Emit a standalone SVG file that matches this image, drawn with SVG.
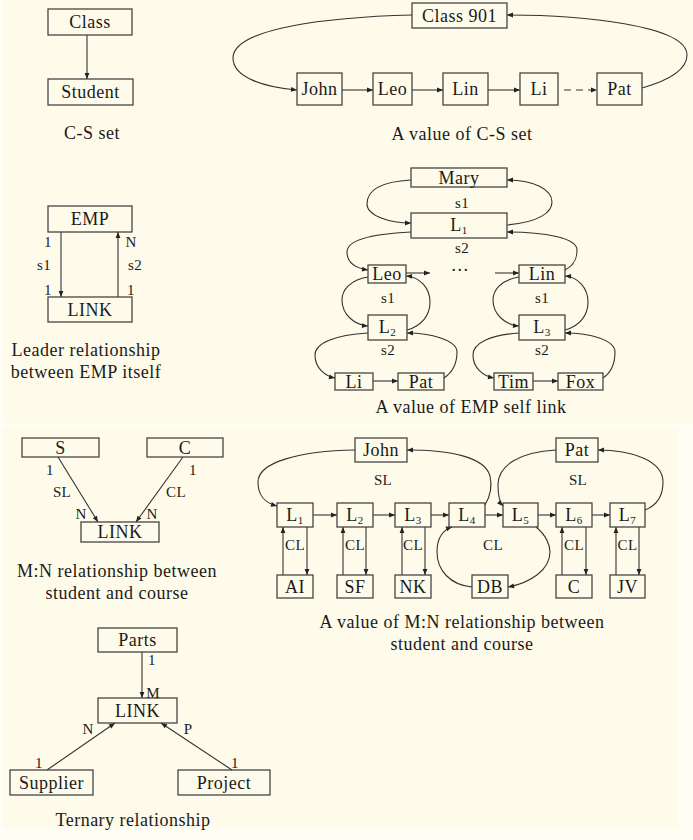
<svg xmlns="http://www.w3.org/2000/svg" width="693" height="840" viewBox="0 0 693 840">
<defs>
<style>
.box{fill:none;stroke:#444;stroke-width:1.3}
.t{font-family:"Liberation Serif","DejaVu Serif",serif;font-size:18px;letter-spacing:0.5px;fill:#1a1a1a;text-anchor:middle}
.s{font-size:15px;letter-spacing:0.3px}
.sb{font-size:11px}
.c{fill:none;stroke:#333;stroke-width:1.1;marker-end:url(#ah)}
</style>
<marker id="ah" viewBox="0 0 10 10" refX="10" refY="5" markerWidth="7" markerHeight="6" markerUnits="userSpaceOnUse" orient="auto"><path d="M0,1 L10,5 L0,9 z" fill="#222"/></marker>
</defs>
<rect x="0" y="0" width="693" height="840" fill="#fffef5"/>
<rect x="3" y="0" width="690" height="423" fill="#fffbea"/>
<rect x="3" y="428" width="675" height="400" fill="#fffbea"/>

<g id="connectors">
<path class="c" d="M87,35 L87,79"/>
<path class="c" d="M342,90 L373,90"/>
<path class="c" d="M412,90 L443,90"/>
<path class="c" d="M488,90 L520,90"/>
<path class="c" d="M564,90 L597,90" stroke-dasharray="7,5" stroke="#222"/>
<path class="c" d="M412,15 C330,17 233,28 233,58 C233,78 265,87 297,90"/>
<path class="c" d="M642,88 C670,80 687,70 687,55 C687,25 580,15 507,15"/>
<path class="c" d="M61,232 L61,297"/>
<path class="c" d="M118,297 L118,232"/>
<path class="c" d="M411,180 C375,182 367,194 367,204 C367,216 390,223 411,223"/>
<path class="c" d="M507,225 C540,222 552,212 552,202 C552,190 535,180 507,180"/>
<path class="c" d="M411,232 C370,234 347,240 347,252 C347,262 355,268 368,270"/>
<path class="c" d="M565,270 C575,265 577,258 577,250 C577,238 545,232 507,232"/>
<path class="c" d="M368,277 C350,280 342,290 342,300 C342,315 355,325 368,326"/>
<path class="c" d="M407,330 C422,326 430,315 430,302 C430,288 420,277 406,276"/>
<path class="c" d="M519,277 C501,280 493,290 493,300 C493,315 506,325 519,326"/>
<path class="c" d="M565,330 C580,326 588,315 588,302 C588,288 578,277 565,276"/>
<path class="c" d="M368,333 C335,335 315,343 315,355 C315,368 325,376 335,378"/>
<path class="c" d="M444,378 C453,372 457,362 457,352 C457,340 430,333 407,333"/>
<path class="c" d="M519,333 C490,335 473,343 473,355 C473,368 483,376 494,378"/>
<path class="c" d="M603,378 C612,372 615,362 615,352 C615,340 590,333 565,333"/>
<path class="c" d="M406,273 L430,273"/>
<path class="c" d="M495,273 L519,273"/>
<path class="c" d="M373,381 L398,381"/>
<path class="c" d="M533,381 L558,381"/>
<path class="c" d="M58,457 L98,522"/>
<path class="c" d="M183,457 L136,522"/>
<path class="c" d="M313,515 L337,515"/>
<path class="c" d="M373,515 L395,515"/>
<path class="c" d="M431,515 L449,515"/>
<path class="c" d="M485,515 L503,515"/>
<path class="c" d="M538,515 L556,515"/>
<path class="c" d="M592,515 L610,515"/>
<path class="c" d="M283,575 L283,527"/>
<path class="c" d="M307,527 L307,575"/>
<path class="c" d="M343,575 L343,527"/>
<path class="c" d="M366,527 L366,575"/>
<path class="c" d="M402,575 L402,527"/>
<path class="c" d="M425,527 L425,575"/>
<path class="c" d="M562,575 L562,527"/>
<path class="c" d="M586,527 L586,575"/>
<path class="c" d="M616,575 L616,527"/>
<path class="c" d="M639,527 L639,575"/>
<path class="c" d="M472,587 C450,585 437,570 437,552 C437,538 443,530 452,527"/>
<path class="c" d="M536,527 C546,535 550,545 550,552 C550,570 530,583 508,587"/>
<path class="c" d="M355,450 C300,451 258,462 258,482 C258,497 266,503 277,506"/>
<path class="c" d="M485,505 C491,495 492,485 490,476 C485,457 450,450 407,450"/>
<path class="c" d="M556,450 C520,452 498,465 498,485 C498,497 500,503 503,506"/>
<path class="c" d="M645,510 C658,505 663,495 663,482 C663,460 630,450 598,450"/>
<path class="c" d="M142,652 L142,698"/>
<path class="c" d="M47,770 L115,723"/>
<path class="c" d="M232,770 L161,723"/>
</g>

<g id="n-class"><rect class="box" x="48" y="9" width="84" height="26"/><text class="t" x="90" y="28">Class</text></g>
<g id="n-student"><rect class="box" x="48" y="79" width="85" height="26"/><text class="t" x="90.5" y="98">Student</text></g>
<text class="t" x="92" y="139">C-S set</text>

<g id="n-class901"><rect class="box" x="412" y="3" width="95" height="25"/><text class="t" x="459.5" y="21.5">Class 901</text></g>
<g id="n-john1"><rect class="box" x="297" y="73" width="45" height="32"/><text class="t" x="319.5" y="95">John</text></g>
<g id="n-leo1"><rect class="box" x="373" y="73" width="39" height="32"/><text class="t" x="392.5" y="95">Leo</text></g>
<g id="n-lin1"><rect class="box" x="443" y="73" width="45" height="32"/><text class="t" x="465.5" y="95">Lin</text></g>
<g id="n-li1"><rect class="box" x="520" y="73" width="38" height="32"/><text class="t" x="539" y="95">Li</text></g>
<g id="n-pat1"><rect class="box" x="597" y="73" width="45" height="32"/><text class="t" x="619.5" y="95">Pat</text></g>
<text class="t" x="462" y="140">A value of C-S set</text>

<g id="n-emp"><rect class="box" x="48" y="206" width="84" height="26"/><text class="t" x="90" y="225">EMP</text></g>
<g id="n-link1"><rect class="box" x="48" y="297" width="84" height="25"/><text class="t" x="90" y="315.5">LINK</text></g>
<text class="t s" x="48" y="247">1</text>
<text class="t s" x="44" y="270">s1</text>
<text class="t s" x="48" y="295">1</text>
<text class="t s" x="131" y="247">N</text>
<text class="t s" x="135" y="270">s2</text>
<text class="t s" x="131" y="295">1</text>
<text class="t" x="86" y="356">Leader relationship</text>
<text class="t" x="86" y="378">between EMP itself</text>

<g id="n-mary"><rect class="box" x="411" y="168" width="96" height="19"/><text class="t" x="459" y="183.5">Mary</text></g>
<g id="n-l1a"><rect class="box" x="411" y="213" width="96" height="25"/><text class="t" x="459" y="231">L<tspan class="sb" dy="3">1</tspan></text></g>
<g id="n-leo2"><rect class="box" x="368" y="265" width="38" height="18"/><text class="t" x="387" y="280">Leo</text></g>
<g id="n-lin2"><rect class="box" x="519" y="265" width="46" height="18"/><text class="t" x="542" y="280">Lin</text></g>
<g id="n-l2a"><rect class="box" x="368" y="315" width="39" height="25"/><text class="t" x="387.5" y="333">L<tspan class="sb" dy="3">2</tspan></text></g>
<g id="n-l3a"><rect class="box" x="519" y="315" width="46" height="25"/><text class="t" x="542" y="333">L<tspan class="sb" dy="3">3</tspan></text></g>
<g id="n-li2"><rect class="box" x="335" y="373" width="38" height="17"/><text class="t" x="354" y="387.5">Li</text></g>
<g id="n-pat2"><rect class="box" x="398" y="373" width="46" height="17"/><text class="t" x="421" y="387.5">Pat</text></g>
<g id="n-tim"><rect class="box" x="494" y="373" width="39" height="17"/><text class="t" x="513.5" y="387.5">Tim</text></g>
<g id="n-fox"><rect class="box" x="558" y="373" width="45" height="17"/><text class="t" x="580.5" y="387.5">Fox</text></g>
<text class="t s" x="462" y="208">s1</text>
<text class="t s" x="462" y="253">s2</text>
<text class="t s" x="388" y="303">s1</text>
<text class="t s" x="542" y="303">s1</text>
<text class="t s" x="388" y="355">s2</text>
<text class="t s" x="542" y="355">s2</text>
<text class="t" x="460" y="271">…</text>
<text class="t" x="471" y="413">A value of EMP self link</text>

<g id="n-s"><rect class="box" x="22" y="438" width="77" height="19"/><text class="t" x="60.5" y="453.5">S</text></g>
<g id="n-c"><rect class="box" x="147" y="438" width="76" height="19"/><text class="t" x="185" y="453.5">C</text></g>
<g id="n-link2"><rect class="box" x="81" y="522" width="78" height="20"/><text class="t" x="120" y="538">LINK</text></g>
<text class="t s" x="50" y="475">1</text>
<text class="t s" x="62" y="497">SL</text>
<text class="t s" x="81" y="519">N</text>
<text class="t s" x="193" y="475">1</text>
<text class="t s" x="176" y="497">CL</text>
<text class="t s" x="152" y="519">N</text>
<text class="t" x="117" y="577">M:N relationship between</text>
<text class="t" x="117" y="599">student and course</text>

<g id="n-john3"><rect class="box" x="355" y="438" width="52" height="24"/><text class="t" x="381" y="456">John</text></g>
<g id="n-pat3"><rect class="box" x="556" y="438" width="42" height="24"/><text class="t" x="577" y="456">Pat</text></g>
<g id="n-ml1"><rect class="box" x="277" y="503" width="36" height="24"/><text class="t" x="295" y="520.5">L<tspan class="sb" dy="3">1</tspan></text></g>
<g id="n-ml2"><rect class="box" x="337" y="503" width="36" height="24"/><text class="t" x="355" y="520.5">L<tspan class="sb" dy="3">2</tspan></text></g>
<g id="n-ml3"><rect class="box" x="395" y="503" width="36" height="24"/><text class="t" x="413" y="520.5">L<tspan class="sb" dy="3">3</tspan></text></g>
<g id="n-ml4"><rect class="box" x="449" y="503" width="36" height="24"/><text class="t" x="467" y="520.5">L<tspan class="sb" dy="3">4</tspan></text></g>
<g id="n-ml5"><rect class="box" x="503" y="503" width="35" height="24"/><text class="t" x="520.5" y="520.5">L<tspan class="sb" dy="3">5</tspan></text></g>
<g id="n-ml6"><rect class="box" x="556" y="503" width="36" height="24"/><text class="t" x="574" y="520.5">L<tspan class="sb" dy="3">6</tspan></text></g>
<g id="n-ml7"><rect class="box" x="610" y="503" width="35" height="24"/><text class="t" x="627.5" y="520.5">L<tspan class="sb" dy="3">7</tspan></text></g>
<g id="n-ai"><rect class="box" x="277" y="575" width="36" height="23"/><text class="t" x="295" y="592.5">AI</text></g>
<g id="n-sf"><rect class="box" x="337" y="575" width="36" height="23"/><text class="t" x="355" y="592.5">SF</text></g>
<g id="n-nk"><rect class="box" x="395" y="575" width="36" height="23"/><text class="t" x="413" y="592.5">NK</text></g>
<g id="n-db"><rect class="box" x="472" y="575" width="36" height="23"/><text class="t" x="490" y="592.5">DB</text></g>
<g id="n-c2"><rect class="box" x="556" y="575" width="36" height="23"/><text class="t" x="574" y="592.5">C</text></g>
<g id="n-jv"><rect class="box" x="610" y="575" width="35" height="23"/><text class="t" x="627.5" y="592.5">JV</text></g>
<text class="t s" x="295" y="550">CL</text>
<text class="t s" x="355" y="550">CL</text>
<text class="t s" x="413" y="550">CL</text>
<text class="t s" x="493" y="550">CL</text>
<text class="t s" x="574" y="550">CL</text>
<text class="t s" x="627.5" y="550">CL</text>
<text class="t s" x="383" y="485">SL</text>
<text class="t s" x="578" y="485">SL</text>
<text class="t" x="462" y="628">A value of M:N relationship between</text>
<text class="t" x="462" y="650">student and course</text>

<g id="n-parts"><rect class="box" x="98" y="628" width="79" height="24"/><text class="t" x="137.5" y="646">Parts</text></g>
<g id="n-link3"><rect class="box" x="98" y="698" width="79" height="25"/><text class="t" x="137.5" y="716.5">LINK</text></g>
<g id="n-supplier"><rect class="box" x="10" y="770" width="83" height="25"/><text class="t" x="51.5" y="788.5">Supplier</text></g>
<g id="n-project"><rect class="box" x="178" y="770" width="92" height="25"/><text class="t" x="224" y="788.5">Project</text></g>
<text class="t s" x="152" y="665">1</text>
<text class="t s" x="153" y="698">M</text>
<text class="t s" x="88" y="734">N</text>
<text class="t s" x="188" y="734">P</text>
<text class="t s" x="39" y="768">1</text>
<text class="t s" x="235" y="768">1</text>
<text class="t" x="133" y="826">Ternary relationship</text>
</svg>
